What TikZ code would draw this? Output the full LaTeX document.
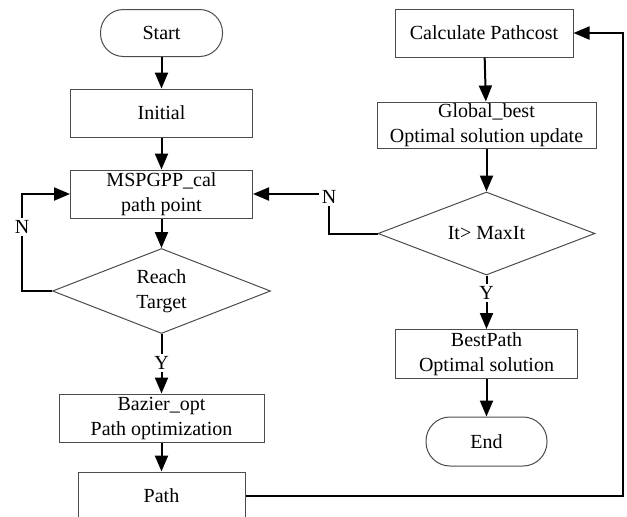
\documentclass[tikz,border=0pt]{standalone}
\usepackage{fontspec}
\setmainfont{Liberation Serif}
\usetikzlibrary{arrows.meta,shapes.geometric}
\begin{document}
\begin{tikzpicture}[x=0.5pt, y=-0.5pt,
        box/.style={draw=black!70, line width=0.5pt, shape=rectangle, align=center, inner sep=0pt, font=\fontsize{10}{12.5}\selectfont},
        term/.style={box, rounded corners=11.5pt},
        decide/.style={draw=black!70, line width=0.5pt, shape=diamond, aspect=2.5, inner sep=0pt, align=center, font=\fontsize{10}{12.5}\selectfont},
        lbl/.style={inner sep=1pt, font=\fontsize{10}{12}\selectfont},
        link/.style={line width=1pt, black},
        arrow/.style={link, -{Triangle[length=8pt,width=6.5pt]}}]
            \def\leftcol{161.5}
            \def\rightcol{486.5}
            \def\boxheight{24pt}
            \clip (0,0) rectangle (627,516);
            \fill[white] (0,0) rectangle (627,516);
            % left column
            \node[term, minimum width=61pt, minimum height=23.5pt] (start) at (\leftcol, 33) {Start};
            \node[box, minimum width=91pt, minimum height=\boxheight] (init) at (\leftcol, 113) {Initial};
            \node[box, minimum width=91pt, minimum height=\boxheight] (calc) at (\leftcol, 194) {MSPGPP\_cal\\path point};
            \node[decide, minimum width=109pt, minimum height=42.5pt] (reach) at (\leftcol, 291) {Reach\\Target};
            \node[lbl] (yL) at (\leftcol, 363) {Y};
            \node[box, minimum width=102.5pt, minimum height=\boxheight] (bez) at (\leftcol, 418) {Bazier\_opt\\Path optimization};
            \node[box, minimum width=83.5pt, minimum height=\boxheight] (path) at (\leftcol, 496) {Path};
            \node[lbl] (nL) at (22, 227) {N};
            % right column
            \node[box, minimum width=89pt, minimum height=\boxheight] (pcost) at (484, 33) {Calculate Pathcost};
            \node[box, minimum width=109.5pt, minimum height=23pt] (gbest) at (\rightcol, 125) {Global\_best\\Optimal solution update};
            \node[decide, minimum width=108.5pt, minimum height=41.5pt] (maxit) at (\rightcol, 233.5) {It> MaxIt};
            \node[lbl] (yR) at (\rightcol, 293) {Y};
            \node[box, minimum width=91pt, minimum height=24.5pt] (best) at (\rightcol, 354) {BestPath\\Optimal solution};
            \node[term, minimum width=60.5pt, minimum height=24.5pt, rounded corners=12pt] (end) at (\rightcol, 441.5) {End};
            \node[lbl] (nR) at (329, 197) {N};
            \coordinate (rturn) at (623, 33);
            % links
            \draw[arrow] (start) -- (init);
            \draw[arrow] (init) -- (calc);
            \draw[arrow] (calc) -- (reach);
            \draw[link] (reach.south) -- (yL.north);
            \draw[arrow] (yL.south) -- (bez.north);
            \draw[arrow] (bez) -- (path);
            \draw[link] (reach.west) -| (nL.south);
            \draw[arrow] (nL.north) |- (calc.west);
            \draw[arrow] (path.east) -| (rturn) -- (pcost.east);
            \draw[arrow] (pcost) -- (gbest);
            \draw[arrow] (gbest) -- (maxit);
            \draw[link] (maxit.south) -- (yR.north);
            \draw[arrow] (yR.south) -- (best.north);
            \draw[arrow] (best) -- (end);
            \draw[link] (maxit.west) -| (nR.south);
            \draw[arrow] (nR.west |- calc.east) -- (calc.east);
        \end{tikzpicture}
\end{document}
